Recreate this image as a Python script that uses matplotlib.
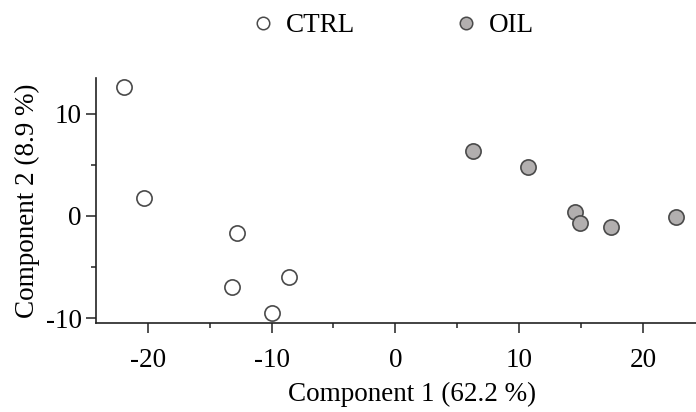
import matplotlib
matplotlib.use("Agg")
import matplotlib.pyplot as plt
from matplotlib.lines import Line2D
from matplotlib.ticker import MultipleLocator

# PCA scores
ctrl_x = [-21.9, -20.3, -12.8, -8.6, -13.2, -10.0]
ctrl_y = [12.6, 1.8, -1.7, -6.0, -6.9, -9.5]
oil_x = [6.3, 10.7, 14.5, 14.9, 17.4, 22.7]
oil_y = [6.4, 4.8, 0.4, -0.7, -1.1, -0.1]

group_names = ["CTRL", "OIL"]
x_label = "Component 1 (62.2 %)"
y_label = "Component 2 (8.9 %)"

plt.rcParams["font.family"] = ["Liberation Serif", "DejaVu Serif"]
plt.rcParams["font.size"] = 19.5
plt.rcParams["axes.unicode_minus"] = False

edge = "#4a4a4a"
oil_color = "#b2afaf"

fig = plt.figure(figsize=(6.96, 4.12), dpi=100)
ax = fig.add_axes([0.1375, 0.2153, 0.909, 0.5954])

ax.scatter(ctrl_x, ctrl_y, s=120, facecolor="white", edgecolor=edge,
           linewidth=1.2, zorder=3)
ax.scatter(oil_x, oil_y, s=120, facecolor=oil_color, edgecolor=edge,
           linewidth=1.2, zorder=3)

ax.set_xlim(-24.2, 26.9)
ax.set_ylim(-10.5, 13.5)
ax.xaxis.set_major_locator(MultipleLocator(10))
ax.xaxis.set_minor_locator(MultipleLocator(5))
ax.yaxis.set_major_locator(MultipleLocator(10))
ax.yaxis.set_minor_locator(MultipleLocator(5))

for side in ["top", "right"]:
    ax.spines[side].set_visible(False)
for side in ["left", "bottom"]:
    ax.spines[side].set_color("#222222")
    ax.spines[side].set_linewidth(1.2)

ax.tick_params(which="major", length=7, width=1.1, color="#222222")
ax.tick_params(which="minor", length=3.6, width=1.1, color="#222222")
ax.tick_params(axis="x", which="major", pad=11)
ax.tick_params(axis="y", which="major", pad=3)

ax.set_xlabel(x_label, labelpad=6)
ax.set_ylabel(y_label, labelpad=4)

handles = [
    Line2D([], [], linestyle="none", marker="o", markersize=9,
           markerfacecolor="white", markeredgecolor=edge, markeredgewidth=1.1),
    Line2D([], [], linestyle="none", marker="o", markersize=9,
           markerfacecolor=oil_color, markeredgecolor=edge, markeredgewidth=1.1),
]
fig.legend(handles, group_names, loc="upper center", ncol=2,
           bbox_to_anchor=(0.5625, 1.027), frameon=False,
           handletextpad=0.35, columnspacing=3.6, handlelength=1.0)

fig.savefig("out.png", dpi=100)
